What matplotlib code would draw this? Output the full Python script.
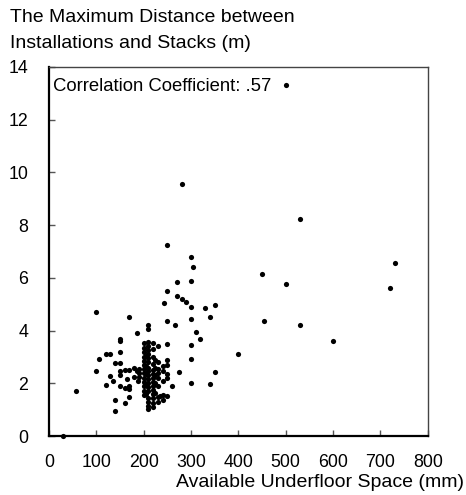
import matplotlib
matplotlib.use("Agg")
import matplotlib.pyplot as plt

plt.rcParams['font.family'] = ['Liberation Sans', 'DejaVu Sans']

# outer / sparse points (available space mm, max distance m)
x_sparse = [30, 57, 100, 500, 280, 530, 730, 720, 450, 500, 530, 600, 455, 400,
            350, 340, 300, 300, 300, 320, 310, 300, 340, 350, 330, 300, 290, 280,
            270, 243, 250, 270, 300, 250, 300, 305, 250, 266, 275, 260, 250, 250,
            250, 250, 250, 250, 230]
y_sparse = [0.0, 1.72, 4.70, 13.3, 9.55, 8.24, 6.56, 5.61, 6.16, 5.77, 4.21, 3.60,
            4.36, 3.13, 2.42, 1.97, 2.01, 2.91, 3.46, 3.70, 3.95, 4.45, 4.51, 4.98,
            4.87, 4.91, 5.10, 5.20, 5.31, 5.05, 5.50, 5.85, 5.88, 7.26, 6.80, 6.40,
            4.36, 4.21, 2.42, 1.91, 3.48, 2.88, 2.69, 2.35, 2.20, 1.52, 1.30]

# left part of the main cluster
x_left = [170, 185, 210, 210, 151, 151, 120, 130, 151, 105, 140, 151, 100, 151,
          160, 170, 180, 186, 151, 130, 135, 120, 151, 160, 170, 170, 165, 180,
          189, 170, 140, 160, 140, 190, 190, 190]
y_left = [4.51, 3.92, 4.21, 4.05, 3.69, 3.62, 3.12, 3.12, 3.17, 2.92, 2.77, 2.79,
          2.45, 2.48, 2.52, 2.52, 2.57, 2.47, 2.33, 2.26, 2.07, 1.92, 1.91, 1.82,
          1.91, 1.80, 2.16, 2.25, 2.09, 1.50, 1.37, 1.24, 0.97, 2.40, 2.23, 2.55]

# dense core around 200-240 mm
x_core = [200, 210, 220, 231,
          200, 200, 200, 200, 200, 200, 200, 200, 200, 200, 200, 200,
          210, 210, 210, 210, 210, 210, 210, 210, 210, 210, 210, 210, 210, 210, 210, 210,
          205, 205, 205, 205, 205,
          220, 220, 220, 220, 220, 220, 220, 220, 220, 220, 220, 220, 220,
          225, 225, 225, 225, 225,
          230, 230, 230, 230, 230, 230,
          240, 240, 240, 240, 240, 235]
y_core = [3.52, 3.58, 3.52, 3.41,
          3.35, 3.20, 3.00, 2.85, 2.70, 2.55, 2.40, 2.20, 2.05, 1.90, 1.70, 1.55,
          3.40, 3.25, 3.10, 2.95, 2.80, 2.60, 2.45, 2.30, 2.15, 2.00, 1.85, 1.70, 1.45, 1.30, 1.15, 1.02,
          3.05, 2.65, 2.35, 1.95, 1.60,
          3.30, 3.00, 2.75, 2.50, 2.35, 2.20, 2.05, 1.90, 1.75, 1.60, 1.45, 1.25, 1.10,
          2.90, 2.60, 2.30, 2.00, 1.65,
          2.80, 2.55, 2.40, 2.20, 1.90, 1.50,
          2.65, 2.45, 2.10, 1.55, 1.35, 1.52]

x_ticks = [0, 100, 200, 300, 400, 500, 600, 700, 800]
y_ticks = [0, 2, 4, 6, 8, 10, 12, 14]

fig = plt.figure(figsize=(4.66, 4.95), dpi=100)
ax = fig.add_axes([0.105, 0.119, 0.813, 0.746])

xs = x_sparse + x_left + x_core
ys = y_sparse + y_left + y_core
ax.scatter(xs, ys, s=14, color="black", linewidths=0, zorder=3, clip_on=False)

ax.set_xlim(0, 800)
ax.set_ylim(0, 14)
ax.set_xticks(x_ticks)
ax.set_yticks(y_ticks)
ax.tick_params(axis="both", direction="in", length=4, width=1, color="#555555",
               labelsize=12.8)
ax.tick_params(axis="x", pad=13)
ax.tick_params(axis="y", pad=15)

for side in ["left", "bottom"]:
    ax.spines[side].set_linewidth(1.6)
    ax.spines[side].set_color("black")
for side in ["top", "right"]:
    ax.spines[side].set_linewidth(1.0)
    ax.spines[side].set_color("#444444")

ax.text(0.01, 0.97, "Correlation Coefficient: .57", transform=ax.transAxes,
        ha="left", va="top", fontsize=13.3)

fig.text(0.022, 0.964, "The Maximum Distance between", ha="left", va="center", fontsize=14)
fig.text(0.022, 0.913, "Installations and Stacks (m)", ha="left", va="center", fontsize=14)
fig.text(0.995, 0.026, "Available Underfloor Space (mm)", ha="right", va="center", fontsize=14)

fig.savefig("out.png", dpi=100)
